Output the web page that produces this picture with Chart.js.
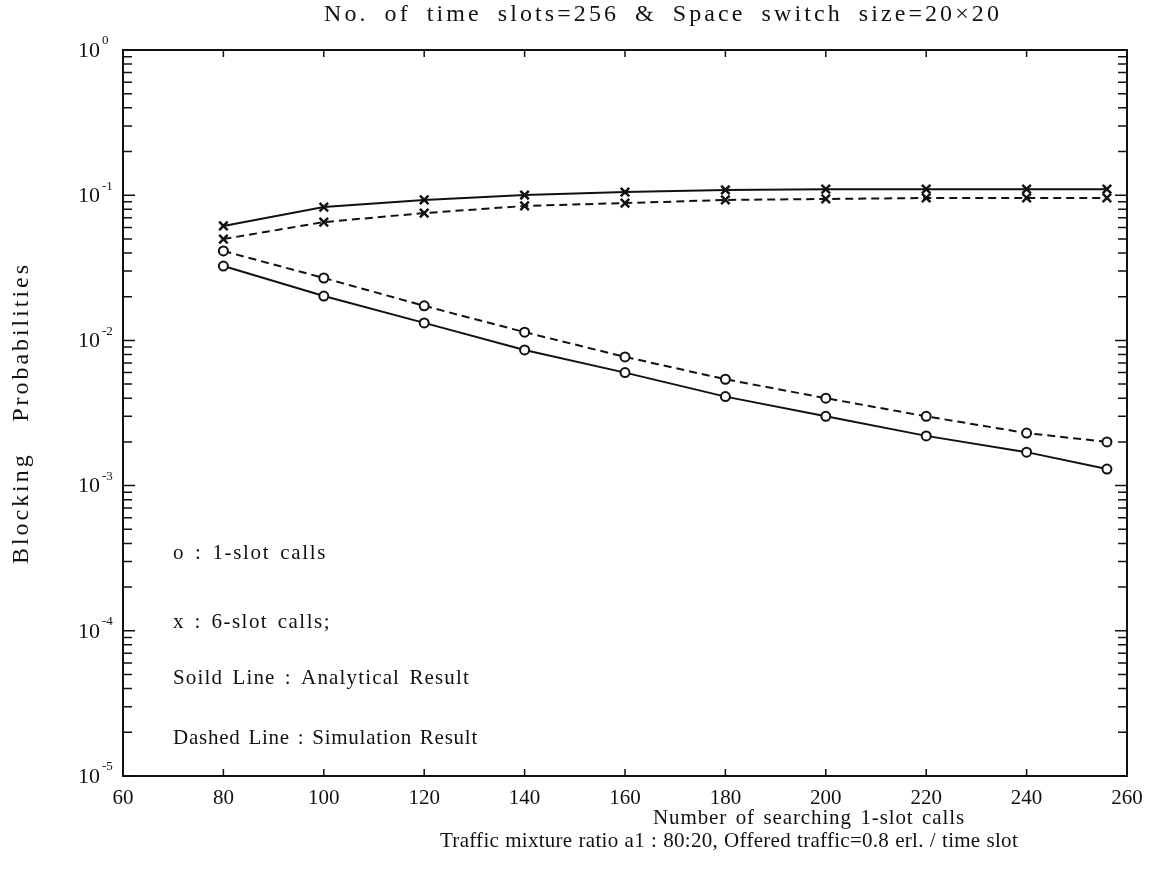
<!DOCTYPE html>
<html>
<head>
<meta charset="utf-8">
<script src="https://cdn.jsdelivr.net/npm/chart.js@4.4.1/dist/chart.umd.min.js"></script>
<style>
  html, body { margin: 0; padding: 0; background: #fff; }
  #wrap { width: 1154px; height: 884px; }
</style>
</head>
<body>
<div id="wrap"><canvas id="blockingChart"></canvas></div>
<script>
// Values
const searchingCalls = [80, 100, 120, 140, 160, 180, 200, 220, 240, 256];
const oneSlotAnalytical = [0.0325, 0.0202, 0.0132, 0.0086, 0.0060, 0.0041, 0.0030, 0.0022, 0.0017, 0.0013];
const oneSlotSimulation = [0.0413, 0.0269, 0.0173, 0.0114, 0.0077, 0.0054, 0.0040, 0.0030, 0.0023, 0.0020];
const sixSlotAnalytical = [0.0614, 0.0829, 0.0927, 0.1003, 0.105, 0.1086, 0.110, 0.110, 0.110, 0.110];
const sixSlotSimulation = [0.0499, 0.0653, 0.0753, 0.0843, 0.0883, 0.0927, 0.0942, 0.0957, 0.0957, 0.0957];

const xTicks = [60, 80, 100, 120, 140, 160, 180, 200, 220, 240, 260];
const yExponents = [0, -1, -2, -3, -4, -5];
const yTickLabels = ["0", "-1", "-2", "-3", "-4", "-5"];

const INK = "#111";
const SERIF = "'Liberation Serif', 'DejaVu Serif', serif";

function toPoints(values) {
  return searchingCalls.map((x, i) => ({ x: x, y: values[i] }));
}

// draw text spread to a given width: mostly letter spacing, the rest between words
function fitText(ctx, text, x, y, width) {
  ctx.letterSpacing = "0px";
  ctx.wordSpacing = "0px";
  const natural = ctx.measureText(text).width;
  const spaces = (text.match(/ /g) || []).length;
  let extra = width - natural;
  const ls = Math.max(Math.min(extra * 0.75 / text.length, 3.5), -1);
  extra -= ls * text.length;
  ctx.letterSpacing = ls + "px";
  if (spaces > 0) ctx.wordSpacing = (extra / spaces) + "px";
  ctx.textAlign = "left";
  ctx.fillText(text, x, y);
  ctx.letterSpacing = "0px";
  ctx.wordSpacing = "0px";
}

const framePlugin = {
  id: "frame",
  afterDraw: (chart) => {
    const { ctx, chartArea } = chart;
    const xs = chart.scales.x;
    const ys = chart.scales.y;
    const { left, right, top, bottom } = chartArea;

    ctx.save();
    ctx.strokeStyle = INK;
    ctx.lineWidth = 2;
    ctx.strokeRect(left, top, right - left, bottom - top);

    // inward log ticks on left and right
    ctx.lineWidth = 1.5;
    ctx.beginPath();
    for (let d = -5; d <= -1; d++) {
      for (let m = 1; m <= 9; m++) {
        const py = ys.getPixelForValue(m * Math.pow(10, d));
        const len = m === 1 ? 12 : 9;
        ctx.moveTo(left, py);
        ctx.lineTo(left + len, py);
        ctx.moveTo(right, py);
        ctx.lineTo(right - len, py);
      }
    }
    // inward ticks on top and bottom
    xTicks.slice(1, -1).forEach((v) => {
      const px = xs.getPixelForValue(v);
      ctx.moveTo(px, bottom);
      ctx.lineTo(px, bottom - 7);
      ctx.moveTo(px, top);
      ctx.lineTo(px, top + 7);
    });
    ctx.stroke();

    // y tick labels with superscript exponents
    ctx.fillStyle = INK;
    ctx.textBaseline = "middle";
    yExponents.forEach((e, i) => {
      const py = ys.getPixelForValue(Math.pow(10, e));
      ctx.font = "22px " + SERIF;
      ctx.textAlign = "right";
      ctx.fillText("10", left - 23, py + 1);
      ctx.font = "13px " + SERIF;
      ctx.textAlign = "left";
      ctx.fillText(yTickLabels[i], left - 21, py - 9);
    });

    // title and captions
    ctx.font = "24px " + SERIF;
    fitText(ctx, "No. of time slots=256 & Space switch size=20\u00d720", 324, 15, 678);
    ctx.font = "21px " + SERIF;
    fitText(ctx, "Number of searching 1-slot calls", 653, 818, 312);
    fitText(ctx, "Traffic mixture ratio a1 : 80:20, Offered traffic=0.8 erl. / time slot", 440, 841, 578);

    // in-plot notes
    ctx.font = "21px " + SERIF;
    fitText(ctx, "o : 1-slot calls", left + 50, 553, 154);
    fitText(ctx, "x : 6-slot calls;", left + 50, 622, 158);
    fitText(ctx, "Soild Line : Analytical Result", left + 50, 678, 297);
    fitText(ctx, "Dashed Line : Simulation Result", left + 50, 738, 305);

    // y axis title
    ctx.translate(22, (top + bottom) / 2);
    ctx.rotate(-Math.PI / 2);
    ctx.font = "24px " + SERIF;
    fitText(ctx, "Blocking Probabilities", -151, 0, 302);
    ctx.restore();
  },
};

function series(label, values, dashed, marker) {
  return {
    label: label,
    data: toPoints(values),
    borderColor: INK,
    backgroundColor: "#fff",
    borderWidth: 2,
    borderDash: dashed ? [8, 5] : [],
    pointStyle: marker,
    pointRadius: marker === "circle" ? 4.5 : 6,
    pointBorderWidth: marker === "circle" ? 2 : 2.5,
    pointBorderColor: INK,
    pointBackgroundColor: "#fff",
    tension: 0,
  };
}

const ctx = document.getElementById("blockingChart").getContext("2d");

new Chart(ctx, {
  type: "line",
  data: {
    datasets: [
      series("1-slot analytical", oneSlotAnalytical, false, "circle"),
      series("1-slot simulation", oneSlotSimulation, true, "circle"),
      series("6-slot analytical", sixSlotAnalytical, false, "crossRot"),
      series("6-slot simulation", sixSlotSimulation, true, "crossRot"),
    ],
  },
  options: {
    responsive: true,
    maintainAspectRatio: false,
    animation: false,
    layout: { padding: { top: 50, right: 27, left: 0, bottom: 0 } },
    plugins: {
      legend: { display: false },
      tooltip: { enabled: false },
      title: { display: false },
    },
    scales: {
      x: {
        type: "linear",
        min: 60,
        max: 260,
        afterBuildTicks: (axis) => {
          axis.ticks = xTicks.map((v) => ({ value: v }));
        },
        afterFit: (axis) => {
          axis.height = 108;
        },
        grid: { drawOnChartArea: false, drawTicks: false },
        border: { display: true, color: INK, width: 2 },
        ticks: {
          color: INK,
          font: { family: SERIF, size: 21 },
          padding: 10,
          maxRotation: 0,
        },
      },
      y: {
        type: "logarithmic",
        min: 1e-5,
        max: 1,
        afterFit: (axis) => {
          axis.width = 123;
        },
        grid: { drawOnChartArea: false, drawTicks: false },
        border: { display: true, color: INK, width: 2 },
        ticks: { display: false },
      },
    },
  },
  plugins: [framePlugin],
});
</script>
</body>
</html>
